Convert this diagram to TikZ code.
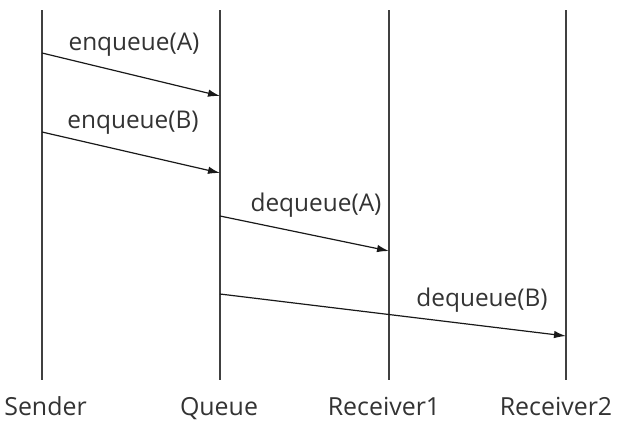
\documentclass[tikz,border=0pt]{standalone}
\usepackage{fontspec}
\setmainfont{Open Sans}
\usetikzlibrary{arrows.meta}

\tikzset{
  lifeline/.style={draw=black!75, line width=1.5bp},
  msg/.style={draw=black!90, line width=1.2bp, -{Latex[length=12bp,width=7.5bp]}},
  actor/.style={text=black!80, inner sep=0pt, anchor=base, font=\fontsize{25}{30}\selectfont},
  msglabel/.style={text=black!80, inner sep=0pt, font=\fontsize{24.5}{30}\selectfont}
}

\begin{document}
\begin{tikzpicture}[x=1bp,y=-1bp]
\useasboundingbox (0,0) rectangle (636,428);
% lifelines
\coordinate (st) at (42,10);  \coordinate (sb) at (42,380);
\coordinate (qt) at (220,10); \coordinate (qb) at (220,380);
\coordinate (at) at (389,10); \coordinate (ab) at (389,380);
\coordinate (bt) at (566,10); \coordinate (bb) at (566,380);
\draw[lifeline](st)--(sb);
\draw[lifeline](qt)--(qb);
\draw[lifeline](at)--(ab);
\draw[lifeline](bt)--(bb);
\node[actor](sender) at (45.5,415){Sender};
\node[actor](queue) at (219,415){Queue};
\node[actor](recv1) at (384,415){Receiver1};
\node[actor](recv2) at (556,415){Receiver2};
% messages
\coordinate (s1) at (42,53);  \coordinate (q1) at (220,96);
\coordinate (s2) at (42,132); \coordinate (q2) at (220,173);
\coordinate (q3) at (220,216); \coordinate (a3) at (389,251);
\coordinate (q4) at (220,294); \coordinate (b4) at (566,336);
\draw[msg](s1)--(q1);
\draw[msg](s2)--(q2);
\draw[msg](q3)--(a3);
\draw[msg](q4)--(b4);
\node[msglabel](enqa) at (134,45){enqueue(A)};
\node[msglabel](enqb) at (133,123){enqueue(B)};
\node[msglabel](deqa) at (316,205){dequeue(A)};
\node[msglabel](deqb) at (482,300){dequeue(B)};
\end{tikzpicture}
\end{document}
